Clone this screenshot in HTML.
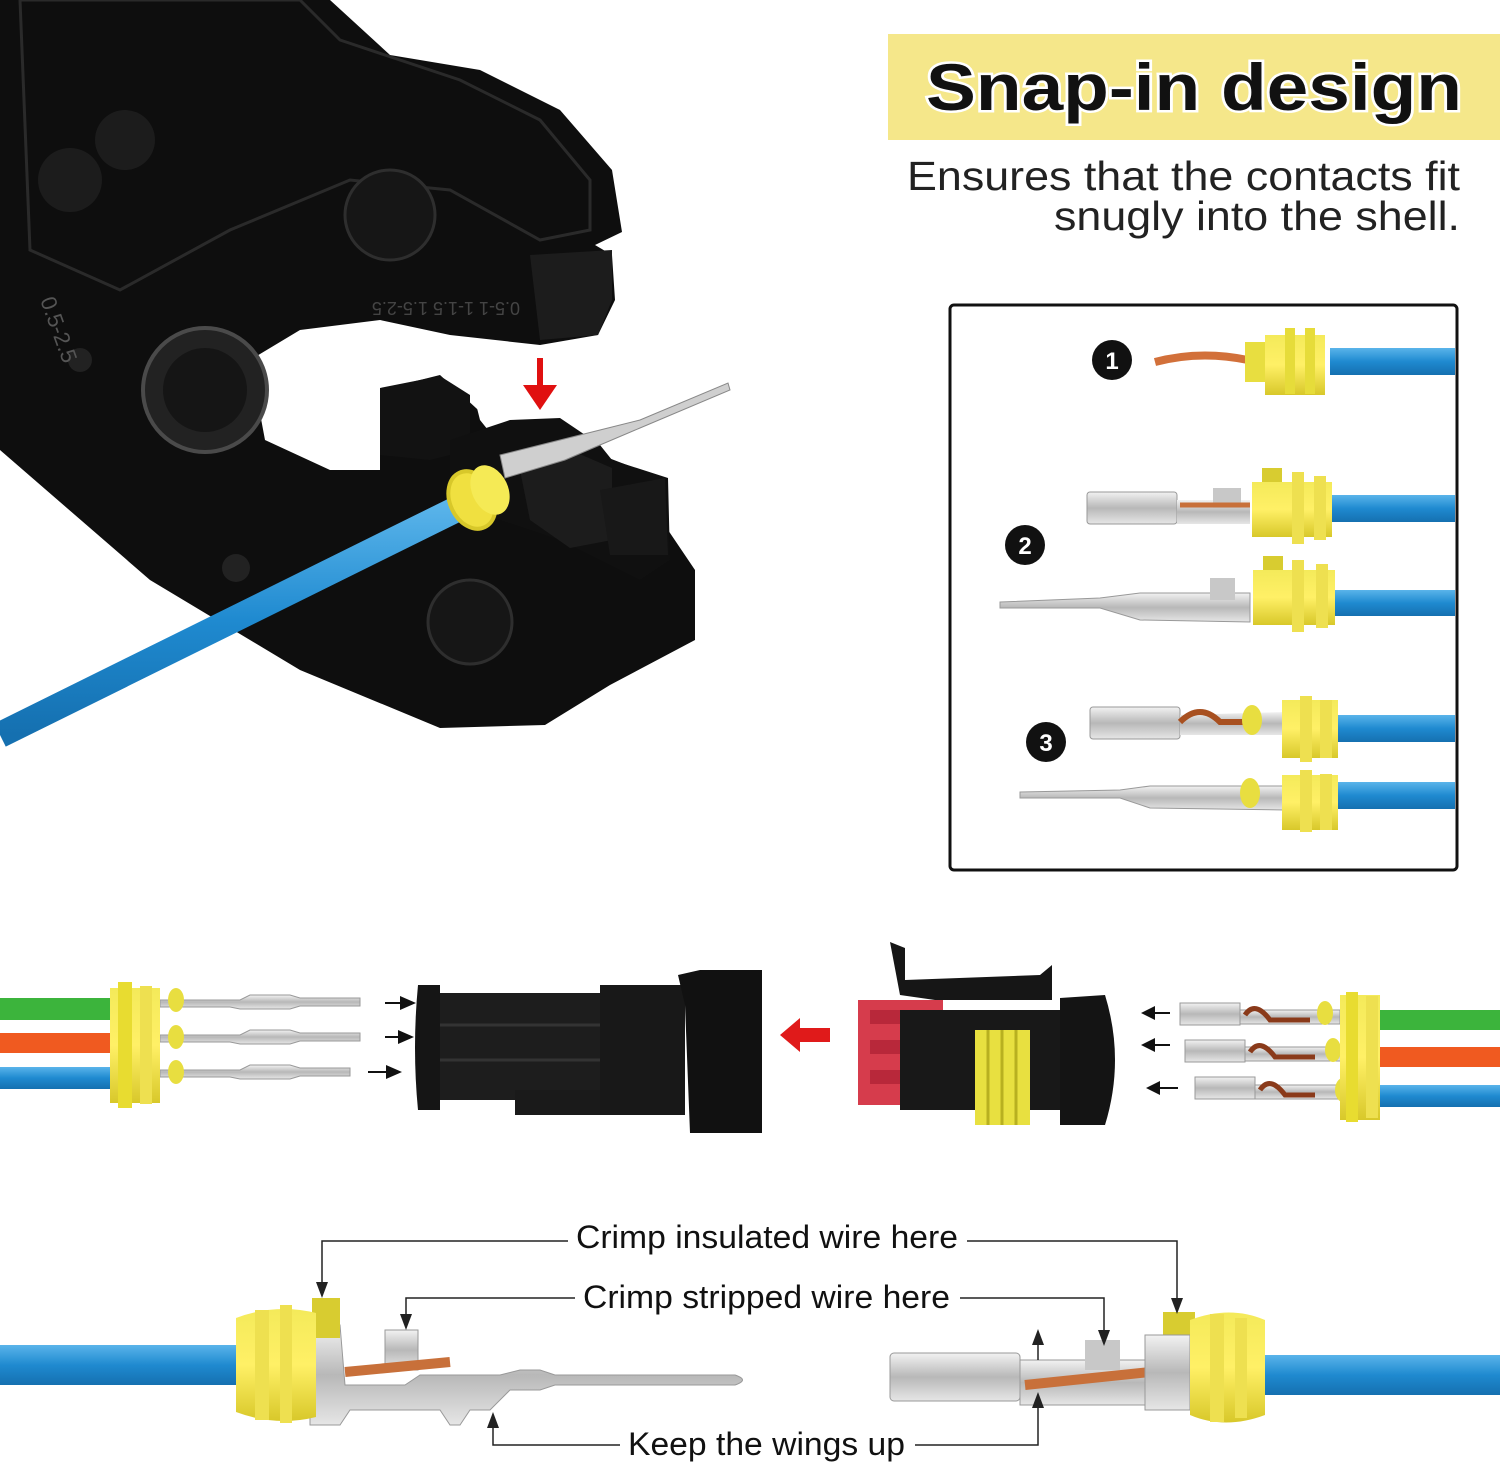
<!DOCTYPE html>
<html><head><meta charset="utf-8"><style>
html,body{margin:0;padding:0;background:#fff}
svg{display:block}
text{font-family:"Liberation Sans",sans-serif}
</style></head><body>
<svg width="1500" height="1464" viewBox="0 0 1500 1464" xmlns="http://www.w3.org/2000/svg">
<defs>
<linearGradient id="sil" x1="0" y1="0" x2="0" y2="1"><stop offset="0" stop-color="#f2f2f2"/><stop offset=".5" stop-color="#b8b8b8"/><stop offset="1" stop-color="#e6e6e6"/></linearGradient>
<linearGradient id="blu" x1="0" y1="0" x2="0" y2="1"><stop offset="0" stop-color="#5ab4ea"/><stop offset=".5" stop-color="#1f8ad0"/><stop offset="1" stop-color="#1570b0"/></linearGradient>
<linearGradient id="yel" x1="0" y1="0" x2="0" y2="1"><stop offset="0" stop-color="#f4ea5a"/><stop offset=".5" stop-color="#fff066"/><stop offset="1" stop-color="#d8c82a"/></linearGradient>
</defs>

<!-- PLIER -->
<path d="M0 0 L330 0 L390 55 L480 70 L560 110 L612 170 L622 232 L595 245 L612 255 L615 300 L598 335 L540 345 L450 335 L380 320 L300 330 L250 360 L265 440 L330 470 L380 470 L380 390 L440 375 L500 430 L575 445 L640 470 L668 530 L695 570 L695 640 L610 685 L545 725 L440 728 L300 670 L150 580 L0 450 Z" fill="#0e0e0e"/>
<path d="M20 0 L300 0 L340 40 L460 80 L540 120 L590 180 L590 230 L540 240 L450 190 L350 180 L230 230 L120 290 L30 250 Z" fill="none" stroke="#2a2a2a" stroke-width="3"/>
<circle cx="390" cy="215" r="45" fill="#161616" stroke="#2e2e2e" stroke-width="3"/>
<circle cx="70" cy="180" r="32" fill="#1c1c1c"/><circle cx="125" cy="140" r="30" fill="#1c1c1c"/>
<circle cx="205" cy="390" r="62" fill="#222" stroke="#4a4a4a" stroke-width="4"/><circle cx="205" cy="390" r="42" fill="#151515"/>
<circle cx="470" cy="622" r="42" fill="#161616" stroke="#2e2e2e" stroke-width="3"/>
<circle cx="80" cy="360" r="12" fill="#222"/><circle cx="236" cy="568" r="14" fill="#222"/>
<path d="M530 255 L612 250 L612 300 L598 335 L540 340 Z" fill="#1c1c1c"/>
<path d="M440 365 L560 360 L600 345 L740 345 L740 470 L640 470 L605 445 L595 470 L520 470 L480 420 L470 380 Z" fill="#fff"/>
<path d="M380 388 L440 376 L470 395 L470 450 L430 460 L380 455 Z" fill="#121212"/>
<path d="M450 440 L510 420 L560 418 L600 445 L612 460 L668 478 L670 560 L640 580 L600 560 L560 540 L500 520 L450 500 Z" fill="#101010"/>
<path d="M520 470 L575 452 L612 468 L612 540 L570 548 L530 520 Z" fill="#1c1c1c"/>
<path d="M600 490 L665 478 L668 555 L610 555 Z" fill="#181818"/>
<text x="360" y="318" font-size="18" fill="#444" transform="rotate(180 440 310)">0.5-1 1-1.5 1.5-2.5</text>
<text x="40" y="300" font-size="22" fill="#555" transform="rotate(70 40 300)">0.5-2.5</text>
<path d="M500 455 L560 440 L600 430 L640 420 L728 383 L730 390 L640 428 L600 445 L565 460 L505 478 Z" fill="#cfcfcf" stroke="#888" stroke-width="1"/>
<rect x="537" y="358" width="6" height="30" fill="#e01010"/><path d="M523 385 L557 385 L540 410 Z" fill="#e01010"/>
<path d="M0 735 L465 505" stroke="url(#blu)" stroke-width="26" stroke-linecap="butt" fill="none"/>
<ellipse cx="472" cy="500" rx="22" ry="30" fill="#f0e040" stroke="#d8c82a" stroke-width="4" transform="rotate(-25 472 500)"/>
<ellipse cx="490" cy="490" rx="18" ry="26" fill="#f5ea55" transform="rotate(-25 490 490)"/>

<!-- HEADER -->
<rect x="888" y="34" width="612" height="106" fill="#f5e78a"/>
<text x="926" y="110" font-size="66" font-weight="bold" textLength="536" lengthAdjust="spacingAndGlyphs" fill="#111" stroke="#fff" stroke-width="5" paint-order="stroke">Snap-in design</text>
<text x="907" y="190" font-size="41" textLength="553" lengthAdjust="spacingAndGlyphs" fill="#222">Ensures that the contacts fit</text>
<text x="1054" y="230" font-size="41" textLength="406" lengthAdjust="spacingAndGlyphs" fill="#222">snugly into the shell.</text>

<!-- BOX -->
<rect x="950" y="305" width="507" height="565" rx="4" fill="#fff" stroke="#111" stroke-width="3"/>
<g font-size="24" font-weight="bold" fill="#fff" text-anchor="middle">
<circle cx="1112" cy="360" r="20" fill="#111"/><text x="1112" y="369">1</text>
<circle cx="1025" cy="545" r="20" fill="#111"/><text x="1025" y="554">2</text>
<circle cx="1046" cy="742" r="20" fill="#111"/><text x="1046" y="751">3</text>
</g>
<path d="M1155 362 Q1200 350 1248 360" stroke="#d2703a" stroke-width="8" fill="none"/>
<rect x="1330" y="348" width="125" height="27" fill="url(#blu)"/>
<rect x="1245" y="342" width="20" height="40" fill="#e8de40"/>
<path d="M1265 335 h60 v60 h-60 Z" fill="url(#yel)"/><rect x="1285" y="328" width="10" height="66" fill="#e6dc3a"/><rect x="1305" y="328" width="10" height="66" fill="#e6dc3a"/>
<rect x="1332" y="495" width="123" height="27" fill="url(#blu)"/>
<rect x="1087" y="492" width="90" height="32" rx="3" fill="url(#sil)" stroke="#999"/>
<path d="M1177 500 L1250 500 L1250 524 L1177 524 Z" fill="url(#sil)"/><rect x="1213" y="488" width="28" height="20" fill="#c8c8c8"/>
<path d="M1180 505 h70" stroke="#c8703a" stroke-width="5"/>
<rect x="1262" y="468" width="20" height="30" fill="#d8cc30"/>
<path d="M1252 482 h80 v55 h-80 Z" fill="url(#yel)"/><rect x="1292" y="472" width="12" height="72" fill="#eee050"/><rect x="1314" y="476" width="12" height="64" fill="#eee050"/>
<rect x="1335" y="590" width="120" height="26" fill="url(#blu)"/>
<path d="M1000 602 L1100 598 L1140 593 L1250 593 L1250 622 L1140 620 L1100 608 L1000 608 Z" fill="url(#sil)" stroke="#999"/>
<rect x="1210" y="578" width="25" height="22" fill="#c8c8c8"/>
<rect x="1263" y="556" width="20" height="30" fill="#d8cc30"/>
<path d="M1253 570 h82 v55 h-82 Z" fill="url(#yel)"/><rect x="1292" y="560" width="12" height="72" fill="#eee050"/><rect x="1316" y="564" width="12" height="64" fill="#eee050"/>
<rect x="1338" y="715" width="117" height="27" fill="url(#blu)"/>
<rect x="1090" y="707" width="90" height="32" rx="3" fill="url(#sil)" stroke="#999"/>
<path d="M1180 715 L1285 712 L1285 735 L1180 735 Z" fill="url(#sil)"/><path d="M1180 722 q20 -20 40 0 h40" stroke="#a85020" stroke-width="6" fill="none"/>
<ellipse cx="1252" cy="720" rx="10" ry="15" fill="#e8de40"/>
<path d="M1282 700 h56 v58 h-56 Z" fill="url(#yel)"/><rect x="1300" y="696" width="12" height="66" fill="#eee050"/><rect x="1320" y="700" width="12" height="58" fill="#eee050"/>
<rect x="1338" y="782" width="117" height="27" fill="url(#blu)"/>
<path d="M1020 792 L1120 790 L1150 786 L1285 786 L1285 810 L1150 808 L1120 798 L1020 798 Z" fill="url(#sil)" stroke="#999"/>
<ellipse cx="1250" cy="793" rx="10" ry="15" fill="#e8de40"/>
<path d="M1282 775 h56 v55 h-56 Z" fill="url(#yel)"/><rect x="1300" y="770" width="12" height="62" fill="#eee050"/><rect x="1320" y="774" width="12" height="56" fill="#eee050"/>

<!-- CONNECTOR ROW LEFT -->
<rect x="0" y="998" width="120" height="22" fill="#3cb43c"/>
<rect x="0" y="1033" width="120" height="20" fill="#f05a20"/>
<rect x="0" y="1067" width="120" height="22" fill="url(#blu)"/>
<g fill="url(#sil)" stroke="#999">
<path d="M160 1000 h80 l10 -5 h40 l10 3 h60 v8 h-60 l-10 3 h-50 l-10 -2 h-70 Z"/>
<path d="M160 1035 h80 l10 -5 h40 l10 3 h60 v8 h-60 l-10 3 h-50 l-10 -2 h-70 Z"/>
<path d="M160 1070 h80 l10 -5 h40 l10 3 h50 v8 h-50 l-10 3 h-50 l-10 -2 h-70 Z"/>
</g>
<path d="M110 988 h50 v115 h-50 Z" fill="url(#yel)"/><rect x="118" y="982" width="14" height="126" fill="#e8dc30"/><rect x="140" y="986" width="12" height="118" fill="#eee050"/>
<ellipse cx="176" cy="1000" rx="8" ry="12" fill="#e8de40"/><ellipse cx="176" cy="1037" rx="8" ry="12" fill="#e8de40"/><ellipse cx="176" cy="1072" rx="8" ry="12" fill="#e8de40"/>
<g stroke="#111" stroke-width="2"><path d="M385 1003 h25 M385 1037 h25 M368 1072 h30"/></g>
<g fill="#111"><path d="M400 996 l16 7 l-16 7 Z"/><path d="M398 1030 l16 7 l-16 7 Z"/><path d="M386 1065 l16 7 l-16 7 Z"/></g>
<path d="M418 985 h22 v125 h-22 q-6 -62 0 -125 Z" fill="#151515"/>
<rect x="440" y="993" width="165" height="107" fill="#1d1d1d"/>
<path d="M440 1025 h160 M440 1060 h160" stroke="#333" stroke-width="3"/>
<rect x="515" y="1090" width="100" height="25" fill="#1a1a1a"/>
<rect x="600" y="985" width="85" height="130" fill="#181818"/>
<path d="M678 975 L700 970 L762 970 L762 1133 L690 1133 L685 1005 Z" fill="#111"/>
<path d="M780 1035 L800 1018 L800 1028 L830 1028 L830 1042 L800 1042 L800 1052 Z" fill="#e01a1a"/>
<rect x="858" y="1000" width="85" height="105" fill="#d63c4c"/>
<rect x="870" y="1010" width="70" height="14" fill="#b8283a"/><rect x="870" y="1040" width="70" height="14" fill="#b8283a"/><rect x="870" y="1070" width="70" height="14" fill="#b8283a"/>
<path d="M890 942 L905 948 L905 980 L1040 975 L1052 965 L1052 1000 L935 1000 L900 995 Z" fill="#161616"/>
<rect x="900" y="1010" width="200" height="100" fill="#181818"/>
<path d="M1060 998 L1105 995 Q1125 1060 1105 1125 L1060 1125 Z" fill="#141414"/>
<rect x="975" y="1030" width="55" height="95" fill="#e8e040"/>
<g stroke="#b8b020" stroke-width="3"><path d="M988 1030 v95 M1002 1030 v95 M1016 1030 v95"/></g>
<g stroke="#111" stroke-width="2"><path d="M1145 1013 h25 M1145 1045 h25 M1150 1088 h28"/></g>
<g fill="#111"><path d="M1155 1006 l-14 7 l14 7 Z"/><path d="M1155 1038 l-14 7 l14 7 Z"/><path d="M1160 1081 l-14 7 l14 7 Z"/></g>
<rect x="1375" y="1010" width="125" height="20" fill="#3cb43c"/>
<rect x="1375" y="1047" width="125" height="20" fill="#f05a20"/>
<rect x="1375" y="1085" width="125" height="22" fill="url(#blu)"/>
<g fill="url(#sil)" stroke="#999">
<rect x="1180" y="1003" width="60" height="22"/><rect x="1185" y="1040" width="60" height="22"/><rect x="1195" y="1077" width="60" height="22"/>
<path d="M1240 1010 h100 v14 h-100 Z"/><path d="M1245 1047 h100 v14 h-100 Z"/><path d="M1255 1085 h90 v14 h-90 Z"/>
</g>
<g stroke="#8a3a1a" stroke-width="5" fill="none"><path d="M1245 1015 q10 -15 25 5 h40"/><path d="M1250 1052 q10 -15 25 5 h40"/><path d="M1260 1090 q10 -15 25 5 h30"/></g>
<ellipse cx="1325" cy="1013" rx="8" ry="12" fill="#e8de40"/><ellipse cx="1333" cy="1050" rx="8" ry="12" fill="#e8de40"/><ellipse cx="1343" cy="1090" rx="8" ry="12" fill="#e8de40"/>
<path d="M1340 995 h40 v125 h-40 Z" fill="url(#yel)"/><rect x="1346" y="992" width="12" height="130" fill="#e8dc30"/><rect x="1366" y="996" width="12" height="122" fill="#eee050"/>

<!-- BOTTOM DIAGRAM -->
<rect x="0" y="1345" width="245" height="40" fill="url(#blu)"/>
<rect x="1262" y="1355" width="238" height="40" fill="url(#blu)"/>
<path d="M310 1325 h30 l5 60 h60 l15 -10 h80 l20 -5 h20 l15 5 h180 q15 5 0 10 h-180 l-15 5 h-30 l-20 20 h-20 l-10 15 h-10 l-10 -15 h-90 l-10 15 h-30 Z" fill="url(#sil)" stroke="#999"/>
<rect x="385" y="1330" width="33" height="40" fill="url(#sil)" stroke="#999"/>
<path d="M345 1372 L450 1362" stroke="#c8703a" stroke-width="10"/>
<rect x="312" y="1298" width="28" height="40" fill="#d8cc30"/>
<path d="M236 1318 q40 -15 80 -5 v104 q-40 10 -80 -5 Z" fill="url(#yel)"/>
<rect x="255" y="1310" width="14" height="110" fill="#eee050"/><rect x="280" y="1305" width="12" height="118" fill="#eee050"/>
<rect x="890" y="1353" width="130" height="48" rx="4" fill="url(#sil)" stroke="#999"/>
<path d="M1020 1360 h130 v45 h-130 Z" fill="url(#sil)" stroke="#999"/>
<rect x="1085" y="1340" width="35" height="30" fill="#c8c8c8"/>
<path d="M1025 1385 L1150 1372" stroke="#c8703a" stroke-width="10"/>
<rect x="1163" y="1312" width="32" height="40" fill="#d8cc30"/>
<path d="M1145 1335 h45 v75 h-45 Z" fill="url(#sil)" stroke="#999"/>
<path d="M1190 1320 q40 -15 75 0 v95 q-40 15 -75 0 Z" fill="url(#yel)"/>
<rect x="1210" y="1314" width="14" height="108" fill="#eee050"/><rect x="1235" y="1318" width="12" height="100" fill="#eee050"/>
<g stroke="#222" stroke-width="1.5" fill="none">
<path d="M322 1290 V1241 H568 M967 1241 H1177 V1306"/>
<path d="M406 1322 V1298 H575 M960 1298 H1104 V1338"/>
<path d="M493 1420 V1445 H620 M915 1445 H1038 V1400"/>
<path d="M1038 1340 V1360"/>
</g>
<g fill="#222">
<path d="M316 1282 l6 16 l6 -16 Z"/><path d="M1171 1298 l6 16 l6 -16 Z"/>
<path d="M400 1314 l6 16 l6 -16 Z"/><path d="M1098 1330 l6 16 l6 -16 Z"/>
<path d="M487 1428 l6 -16 l6 16 Z"/><path d="M1032 1408 l6 -16 l6 16 Z"/><path d="M1032 1345 l6 -16 l6 16 Z"/>
</g>
<g font-size="32" fill="#111">
<text x="576" y="1248" textLength="382" lengthAdjust="spacingAndGlyphs">Crimp insulated wire here</text>
<text x="583" y="1308" textLength="367" lengthAdjust="spacingAndGlyphs">Crimp stripped wire here</text>
<text x="628" y="1455" textLength="277" lengthAdjust="spacingAndGlyphs">Keep the wings up</text>
</g>
</svg>
</body></html>
